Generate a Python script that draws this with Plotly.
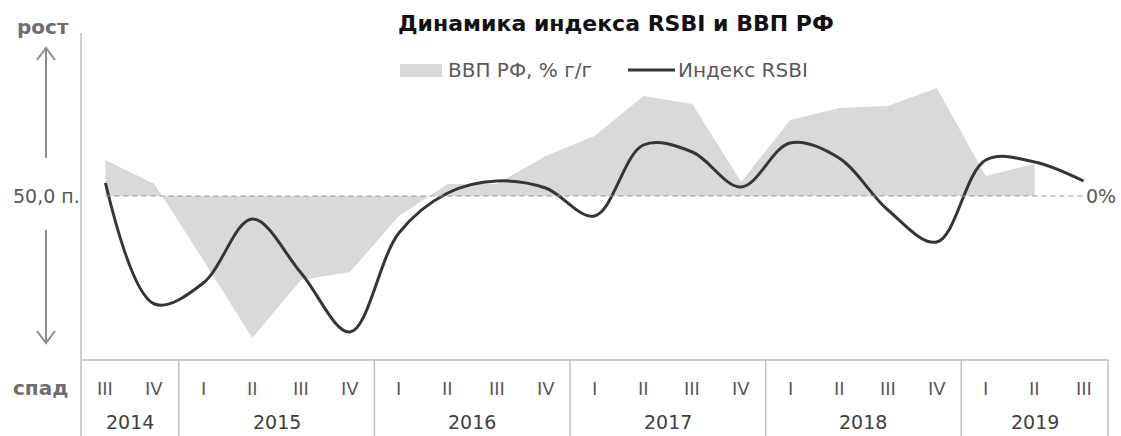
import plotly.graph_objects as go

# ---- data -------------------------------------------------------------
quarters = ["III", "IV",
            "I", "II", "III", "IV",
            "I", "II", "III", "IV",
            "I", "II", "III", "IV",
            "I", "II", "III", "IV",
            "I", "II", "III"]
years = (["2014"] * 2 + ["2015"] * 4 + ["2016"] * 4 +
         ["2017"] * 4 + ["2018"] * 4 + ["2019"] * 3)
# ВВП РФ, % г/г (no value yet for 2019 III)
gdp = [0.9, 0.3,
       -1.6, -3.55, -2.1, -1.9,
       -0.5, 0.3, 0.3, 1.0,
       1.5, 2.5, 2.3, 0.35,
       1.9, 2.2, 2.25, 2.7,
       0.5, 0.8]
# Индекс RSBI, пункты
rsbi = [50.65, 44.6,
        45.65, 48.85, 46.15, 43.2,
        48.15, 50.15, 50.75, 50.4,
        49.0, 52.55, 52.2, 50.45,
        52.65, 51.9, 49.3, 47.7,
        51.8, 51.7, 50.75]

# ---- geometry helpers ---------------------------------------------------
W, H = 1121, 436
L, R, T, B = 81, 13, 33, 76
PW, PH = W - L - R, H - T - B


def px(x):
    return (x - L) / PW


def py(y):
    return (H - B - y) / PH


idx = list(range(len(quarters)))
gdp_idx = idx[:len(gdp)]

GRAY_TXT = "#595959"
BOX = "#bfbfbf"
FONT = "DejaVu Sans"

fig = go.Figure()
fig.add_trace(go.Scatter(
    x=gdp_idx, y=gdp, name="ВВП РФ, % г/г", mode="lines",
    line=dict(width=0, color="#d9d9d9"), fill="tozeroy",
    fillcolor="#d9d9d9", yaxis="y", showlegend=False, hoverinfo="skip"))
fig.add_trace(go.Scatter(
    x=idx, y=rsbi, name="Индекс RSBI", mode="lines",
    line=dict(width=3, color="#353535", shape="spline", smoothing=1.0),
    yaxis="y2", showlegend=False))

shapes = []
# dashed reference line (0% / 50,0 п.)
shapes.append(dict(type="line", xref="x", yref="y", x0=idx[0], x1=idx[-1],
                   y0=0, y1=0, layer="above",
                   line=dict(color="#9a9a9a", width=1.2, dash="5px,4px")))
# left axis line continuing into the category box
shapes.append(dict(type="line", xref="paper", yref="paper",
                   x0=0, x1=0, y0=1, y1=py(H), line=dict(color=BOX, width=1.5)))
# category box top and right border
shapes.append(dict(type="line", xref="paper", yref="paper",
                   x0=0, x1=1, y0=0, y1=0, line=dict(color=BOX, width=1.5)))
shapes.append(dict(type="line", xref="paper", yref="paper",
                   x0=1, x1=1, y0=0, y1=py(H), line=dict(color=BOX, width=1.5)))
# year separators
for i in range(1, len(years)):
    if years[i] != years[i - 1]:
        shapes.append(dict(type="line", xref="x", yref="paper",
                           x0=i - 0.5, x1=i - 0.5, y0=0, y1=py(H),
                           line=dict(color=BOX, width=1.5)))

# arrows
AC = "#8c8c8c"
ax = 46
shapes.append(dict(type="line", xref="paper", yref="paper", x0=px(ax), x1=px(ax),
                   y0=py(48), y1=py(158), line=dict(color=AC, width=2)))
shapes.append(dict(type="path", xref="paper", yref="paper",
                   path=f"M {px(37)},{py(60)} L {px(ax)},{py(48)} L {px(55)},{py(60)}",
                   line=dict(color=AC, width=2)))
shapes.append(dict(type="line", xref="paper", yref="paper", x0=px(ax), x1=px(ax),
                   y0=py(230), y1=py(343), line=dict(color=AC, width=2)))
shapes.append(dict(type="path", xref="paper", yref="paper",
                   path=f"M {px(37)},{py(331)} L {px(ax)},{py(343)} L {px(55)},{py(331)}",
                   line=dict(color=AC, width=2)))

# legend (drawn manually)
shapes.append(dict(type="rect", xref="paper", yref="paper",
                   x0=px(400), x1=px(442), y0=py(64), y1=py(77),
                   fillcolor="#d9d9d9", line=dict(width=0)))
shapes.append(dict(type="line", xref="paper", yref="paper",
                   x0=px(628), x1=px(675), y0=py(70), y1=py(70),
                   line=dict(color="#353535", width=3)))


def note(text, x, y, size, color=GRAY_TXT, xanchor="center", xref="paper",
         yref="paper", **kw):
    return dict(text=text, x=x, y=y, xref=xref, yref=yref, showarrow=False,
                xanchor=xanchor, yanchor="middle", borderpad=0,
                font=dict(family=FONT, size=size, color=color), **kw)


ann = []
ann.append(note("<b>Динамика индекса RSBI и ВВП РФ</b>", px(616), py(23), 22,
                color="#111111"))
ann.append(note("ВВП РФ, % г/г", px(447), py(70), 20, xanchor="left"))
ann.append(note("Индекс RSBI", px(677), py(70), 20, xanchor="left"))
ann.append(note("<b>рост</b>", px(43), py(27), 20, color="#6e6e6e"))
ann.append(note("<b>спад</b>", px(40), py(388), 20, color="#6e6e6e"))
ann.append(note("50,0 п.", px(81), py(196), 19, xanchor="right"))
ann.append(note("0%", idx[-1], 0, 19, xanchor="left", xref="x", yref="y", xshift=1))
# category labels
for i, q in enumerate(quarters):
    ann.append(note(q, i, py(388), 18, xref="x"))
seen = []
for yv in years:
    if yv not in seen:
        seen.append(yv)
for yv in seen:
    pos = [i for i, v in enumerate(years) if v == yv]
    ann.append(note(yv, sum(pos) / len(pos), py(422), 19, color="#404040", xref="x"))

fig.update_layout(
    width=W, height=H,
    margin=dict(l=L, r=R, t=T, b=B),
    paper_bgcolor="white", plot_bgcolor="white",
    xaxis=dict(range=[-0.5, len(quarters) - 0.5], visible=False, fixedrange=True),
    yaxis=dict(range=[-4.1, 4.075], visible=False, fixedrange=True),
    yaxis2=dict(range=[41.8, 58.15], overlaying="y", visible=False, fixedrange=True),
    shapes=shapes, annotations=ann, showlegend=False,
)

fig.write_html("out.html", config={"displayModeBar": False},
               post_script="document.body.style.margin='0px';")
